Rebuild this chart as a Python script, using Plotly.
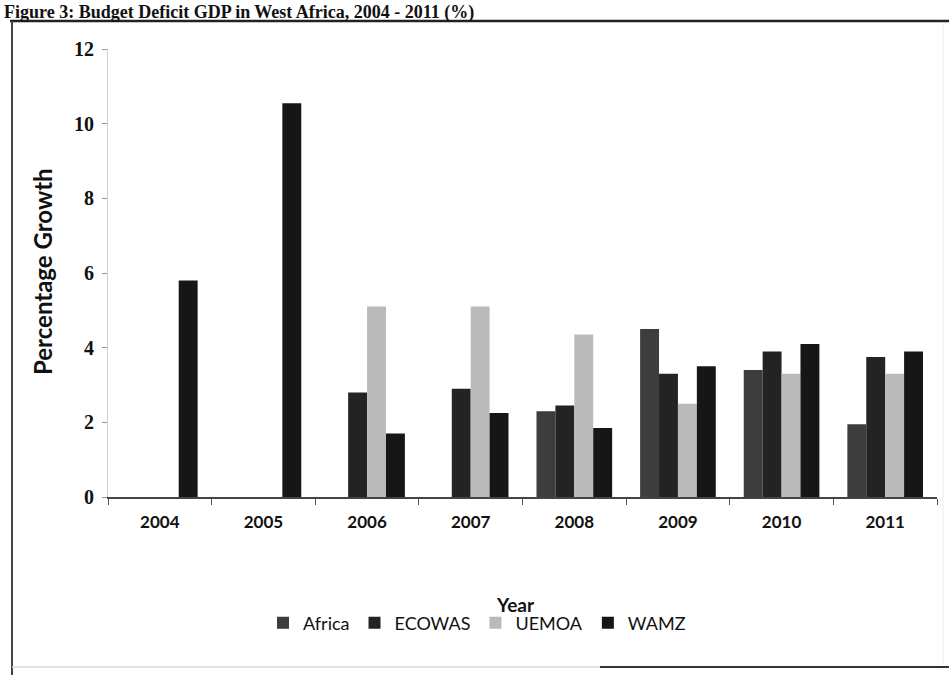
import plotly.graph_objects as go

# Growth rates by region, 2004-2011 (percent)
years = ["2004", "2005", "2006", "2007", "2008", "2009", "2010", "2011"]
africa = [None, None, None, None, 2.3, 4.5, 3.4, 1.95]
ecowas = [None, None, 2.8, 2.9, 2.45, 3.3, 3.9, 3.75]
uemoa = [None, None, 5.1, 5.1, 4.35, 2.5, 3.3, 3.3]
wamz = [5.8, 10.55, 1.7, 2.25, 1.85, 3.5, 4.1, 3.9]
y_ticks = [0, 2, 4, 6, 8, 10, 12]

W, H = 949, 675
L, R, T, B = 108, 12, 49, 178
PW, PH = W - L - R, H - T - B


def px(x):
    return (x - L) / PW


def py(y):
    return (H - B - y) / PH


series = [
    ("Africa", africa, "#3d3d3d"),
    ("ECOWAS", ecowas, "#232323"),
    ("UEMOA", uemoa, "#bababa"),
    ("WAMZ", wamz, "#161616"),
]

fig = go.Figure()
for name, vals, color in series:
    fig.add_trace(go.Bar(
        name=name, x=years, y=vals,
        marker=dict(color=color, line=dict(width=0)),
    ))

sans = "Lato, 'Open Sans', sans-serif"
serif = "'Liberation Serif', 'DejaVu Serif', serif"

fig.update_layout(
    width=W, height=H,
    margin=dict(l=L, r=R, t=T, b=B, pad=0),
    paper_bgcolor="white", plot_bgcolor="white",
    barmode="group", bargap=0.27, bargroupgap=0,
    showlegend=True,
    legend=dict(
        orientation="h", x=px(263), xanchor="left", y=py(623), yanchor="middle",
        font=dict(family=sans, size=18, color="#111"),
        itemwidth=30, traceorder="normal", bgcolor="rgba(0,0,0,0)",
    ),
    xaxis=dict(
        type="category", showgrid=False, zeroline=False,
        showline=True, linecolor="#444", linewidth=1.5,
        ticks="outside", tickson="boundaries", ticklen=6, tickcolor="#555",
        tickfont=dict(family=sans, size=17, color="#111", weight="bold"),
        ticklabelstandoff=9,
    ),
    yaxis=dict(
        range=[0, 12], tickvals=y_ticks, showgrid=False, zeroline=False,
        showline=True, linecolor="#cfcfcf", linewidth=1,
        ticks="outside", ticklen=5, tickcolor="#999",
        tickfont=dict(family=serif, size=20, color="#111", weight="bold"),
        ticklabelstandoff=4,
    ),
)

# Axis titles
fig.add_annotation(
    text="Percentage Growth", textangle=-90, x=px(42), y=py(272),
    xanchor="center", yanchor="middle",
    xref="paper", yref="paper", showarrow=False,
    font=dict(family=sans, size=24, color="#111", weight="bold"),
)
fig.add_annotation(
    text="Year", x=px(515), y=py(604), xanchor="center", yanchor="middle",
    xref="paper", yref="paper", showarrow=False,
    font=dict(family=sans, size=19, color="#111", weight="bold"),
)

# Figure caption above the frame
fig.add_annotation(
    text="Figure 3: Budget Deficit GDP in West Africa, 2004 - 2011 (%)",
    x=px(2), xanchor="left", y=py(0), yanchor="top",
    xref="paper", yref="paper", showarrow=False,
    font=dict(family=serif, size=18, color="#111", weight="bold"),
)

# Frame around the chart
fig.add_shape(type="line", xref="paper", yref="paper",
              x0=px(10), x1=px(949), y0=py(21), y1=py(21),
              line=dict(color="#222", width=2.5))
fig.add_shape(type="line", xref="paper", yref="paper",
              x0=px(12), x1=px(12), y0=py(21), y1=py(675),
              line=dict(color="#444", width=2))
fig.add_shape(type="line", xref="paper", yref="paper",
              x0=px(12), x1=px(600), y0=py(667), y1=py(667),
              line=dict(color="#d8d8d8", width=1.5))
fig.add_shape(type="line", xref="paper", yref="paper",
              x0=px(600), x1=px(949), y0=py(667), y1=py(667),
              line=dict(color="#333", width=2))
fig.add_shape(type="line", xref="paper", yref="paper",
              x0=px(943), x1=px(943), y0=py(23), y1=py(665),
              line=dict(color="#ececec", width=1))

fig.write_html("out.html")
